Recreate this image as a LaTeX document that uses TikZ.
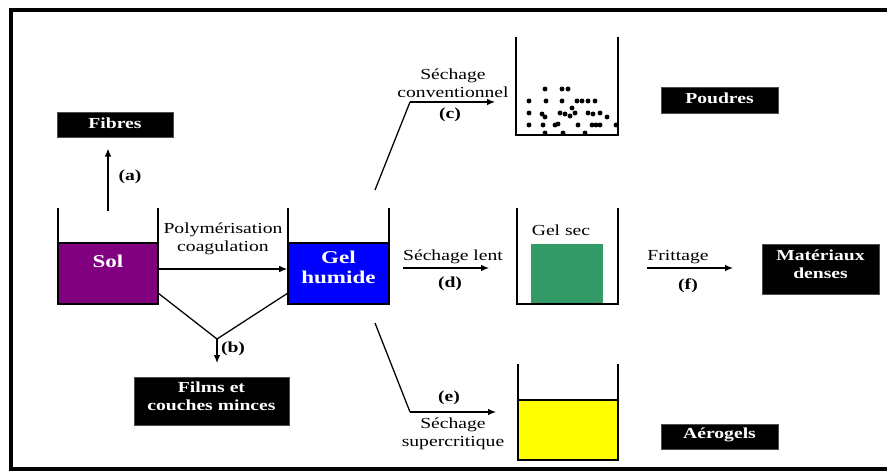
\documentclass[tikz,border=0pt]{standalone}
\usepackage{fontspec}
\setmainfont{Liberation Serif}[FakeStretch=1.28]
\usetikzlibrary{arrows.meta}
\definecolor{solpurple}{HTML}{800080}
\definecolor{gelblue}{HTML}{0000FF}
\definecolor{secgreen}{HTML}{339966}
\definecolor{aeroyellow}{HTML}{FFFF00}
\begin{document}
\begin{tikzpicture}[x=0.75pt,y=-0.75pt,
  txt/.style={font=\fontsize{11.5}{13.5}\selectfont,align=center,inner sep=0pt},
  boldtxt/.style={txt,font=\bfseries\fontsize{11.5}{13.2}\selectfont},
  tagbox/.style={fill=black,draw=black!70,line width=0.4pt,inner sep=0pt},
  tagtxt/.style={boldtxt,text=white},
  liquidtxt/.style={font=\bfseries\fontsize{13.5}{15}\selectfont,text=white,align=center,inner sep=0pt},
  arr/.style={line width=0.95pt,-{Latex[length=6pt,width=5pt]}},
  link/.style={line width=0.95pt},
  wall/.style={line width=1.5pt},
  liquid/.style={draw=black,line width=1.2pt,inner sep=0pt},
  grain/.style={fill=black}
]
\useasboundingbox (0,0) rectangle (887,473);

% outer frame
\draw[line width=2.6pt] (887,10) -- (11,10) -- (11,469) -- (887,469);

% ---- product labels (black tags)
\node[tagbox,minimum width=87pt,minimum height=18.75pt] (fibres) at (115,124.5) {};
\node[tagtxt] (fibresT) at (115,123) {Fibres};
\node[tagbox,minimum width=116.25pt,minimum height=36pt] (films) at (211.5,401) {};
\node[tagtxt] (filmsT) at (211.5,396) {Films et\\couches minces};
\node[tagbox,minimum width=87.75pt,minimum height=19.5pt] (poudres) at (719.5,100) {};
\node[tagtxt] (poudresT) at (719.5,98.5) {Poudres};
\node[tagbox,minimum width=87.75pt,minimum height=37.5pt] (denses) at (820.5,269) {};
\node[tagtxt] (densesT) at (820.5,264) {Matériaux\\denses};
\node[tagbox,minimum width=87.75pt,minimum height=18.75pt] (aerogels) at (719.5,436.5) {};
\node[tagtxt] (aerogelsT) at (719.5,435) {Aérogels};

% ---- sol beaker
\node[liquid,fill=solpurple,minimum width=75pt,minimum height=45.75pt] (sol) at (108,273.5) {};
\draw[wall] (58,208) -- (58,304) -- (158,304) -- (158,208);
\node[liquidtxt] (solT) at (108,261) {Sol};

% ---- wet gel beaker
\node[liquid,fill=gelblue,minimum width=75.75pt,minimum height=45.75pt] (gel) at (338.5,273.5) {};
\draw[wall] (288,208) -- (288,304) -- (389,304) -- (389,208);
\node[liquidtxt] (gelT) at (338.5,267) {Gel\\humide};

% ---- powder beaker
\draw[wall] (516,37) -- (516,135) -- (618,135) -- (618,37);
\foreach \p in {(545,89),(562,89),(568,89),
  (529,101),(546,101),(562,101),(577,101),(582,101),(588,101),(595,101),
  (529,113),(542,114),(545,117),(560,113),(565,114),(572,108),(570,116),(575,113),(588,113),(593,114),(600,113),(607,117),
  (529,125),(543,125),(555,125),(558,124),(578,125),(592,125),(596,125),(600,125),(616,125),
  (545,133),(563,133),(585,133)}
  \fill[grain] \p circle[radius=1.85pt];

% ---- dry gel beaker
\node[fill=secgreen,inner sep=0pt,minimum width=54pt,minimum height=45pt] (sec) at (567,274) {};
\draw[wall] (517,208) -- (517,304) -- (618,304) -- (618,208);
\node[txt] (secT) at (561,230) {Gel sec};

% ---- aerogel beaker
\node[liquid,fill=aeroyellow,minimum width=75pt,minimum height=45pt] (aero) at (568,430) {};
\draw[wall] (518,364) -- (518,460) -- (618,460) -- (618,364);

% ---- (a) fibres
\coordinate (aStart) at (108,211);
\draw[arr] (aStart) -- (aStart |- fibres.south) [shorten >=8.5pt];
\node[boldtxt] (la) at (130,177) {(a)};

% ---- polymerisation
\coordinate (pStart) at (158,269);
\draw[arr] (pStart) -- (pStart -| gel.west);
\node[txt] (poly) at (223,238.5) {Polymérisation\\coagulation};

% ---- (b) films
\coordinate (bL) at (158,293);
\coordinate (bR) at (288,293);
\coordinate (bV) at (217,339);
\coordinate (bEnd) at (217,363);
\draw[link] (bL) -- (bV) -- (bR);
\draw[arr] (bV) -- (bEnd);
\node[boldtxt] (lb) at (233,349) {(b)};

% ---- (c) conventional drying
\coordinate (cStart) at (375,190);
\coordinate (cKink) at (410,102);
\draw[link] (cStart) -- (cKink);
\draw[arr] (cKink) -- (495,102);
\node[txt] (secC) at (453,83) {Séchage\\conventionnel};
\node[boldtxt] (lc) at (450,115) {(c)};

% ---- (d) slow drying
\coordinate (dStart) at (403,268);
\draw[arr] (dStart) -- (489,268);
\node[txt] (secD) at (453,257) {Séchage lent};
\node[boldtxt] (ld) at (450,284) {(d)};

% ---- (e) supercritical drying
\coordinate (eStart) at (375,323);
\coordinate (eKink) at (410,412);
\draw[link] (eStart) -- (eKink);
\draw[arr] (eKink) -- (496,412);
\node[boldtxt] (le) at (449,398) {(e)};
\node[txt] (secE) at (453,434) {Séchage\\supercritique};

% ---- (f) sintering
\coordinate (fStart) at (647,268);
\draw[arr] (fStart) -- (733,268);
\node[txt] (frit) at (678,257) {Frittage};
\node[boldtxt] (lf) at (688,286) {(f)};
\end{tikzpicture}
\end{document}
